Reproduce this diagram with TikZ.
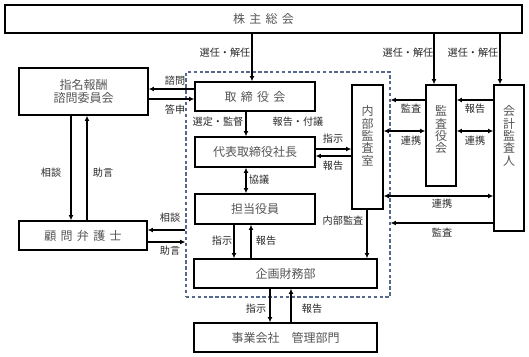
\documentclass[tikz,border=0pt]{standalone}
\usepackage{fontspec}
\setmainfont{Noto Sans CJK JP}
\usepackage{tikz}
\usetikzlibrary{arrows.meta, calc}
\definecolor{boxtext}{RGB}{85,85,85}
\definecolor{labeltext}{RGB}{40,40,40}
\definecolor{framecol}{RGB}{85,105,140}
\newcommand{\kgap}{\hspace{3.2pt}}

\begin{document}
\begin{tikzpicture}[x=0.75pt, y=-0.75pt,
  box/.style={draw, line width=0.9pt, inner sep=0pt, text=boxtext,
    font=\fontsize{9}{10}\selectfont},
  vtext/.style={anchor=north, inner sep=0pt, text=boxtext, align=center,
    font=\fontsize{9}{9.3}\selectfont},
  lbl/.style={inner sep=0pt, text=labeltext, font=\fontsize{7.6}{8}\selectfont},
  arr/.style={line width=0.8pt, -{Latex[length=4pt,width=3.6pt]}},
  darr/.style={line width=0.8pt, {Latex[length=4pt,width=3.6pt]}-{Latex[length=4pt,width=3.6pt]}}]
  \useasboundingbox (0,0) rectangle (529,357);
  % management frame
  \node[draw=framecol, dash pattern=on 2.6pt off 1.8pt, line width=0.8pt,
    minimum width=204*0.75pt, minimum height=225*0.75pt] (frame) at (288,184.5) {};
  % boxes
  \node[box, minimum width=517*0.75pt, minimum height=28*0.75pt] (sh) at (263.5,19)
    {株\kgap 主\kgap 総\kgap 会};
  \node[box, minimum width=129*0.75pt, minimum height=47*0.75pt, align=center] (comm) at (83.5,91.5)
    {指名報酬\\諮問委員会};
  \node[box, minimum width=128*0.75pt, minimum height=29*0.75pt] (lawyer) at (83,235.5)
    {顧\kgap 問\kgap 弁\kgap 護\kgap 士};
  \node[box, minimum width=120*0.75pt, minimum height=29*0.75pt] (board) at (255,96.5)
    {取\kgap 締\kgap 役\kgap 会};
  \node[box, minimum width=120*0.75pt, minimum height=30*0.75pt] (pres) at (255,152)
    {代表取締役社長};
  \node[box, minimum width=120*0.75pt, minimum height=30*0.75pt] (exec) at (255,209)
    {担当役員};
  \node[box, minimum width=183*0.75pt, minimum height=29*0.75pt] (plan) at (285.5,273.5)
    {企画財務部};
  \node[box, minimum width=183*0.75pt, minimum height=29*0.75pt] (biz) at (285.5,337.5)
    {事業会社\quad 管理部門};
  \node[box, minimum width=31*0.75pt, minimum height=124*0.75pt] (ia) at (367.5,147) {};
  \node[box, minimum width=30*0.75pt, minimum height=101*0.75pt] (kan) at (441,135.5) {};
  \node[box, minimum width=30*0.75pt, minimum height=146*0.75pt] (ext) at (509,158) {};
  \node[vtext] (iat) at ($(ia.north)+(0,21)$) {内\\部\\監\\査\\室};
  \node[vtext] (kant) at ($(kan.north)+(0,21)$) {監\\査\\役\\会};
  \node[vtext] (extt) at ($(ext.north)+(0,21)$) {会\\計\\監\\査\\人};
  % connectors
  \draw[arr] (252,0 |- sh.south) -- (252,0 |- board.north);
  \draw[arr] (434,0 |- sh.south) -- (434,0 |- kan.north);
  \draw[arr] (500,0 |- sh.south) -- (500,0 |- ext.north);
  \draw[arr] (board.west |- 0,89) -- (comm.east |- 0,89);
  \draw[arr] (comm.east |- 0,99) -- (board.west |- 0,99);
  \draw[arr] (71,0 |- comm.south) -- (71,0 |- lawyer.north);
  \draw[arr] (87,0 |- lawyer.north) -- (87,0 |- comm.south);
  \draw[arr] (frame.west |- 0,230) -- (lawyer.east |- 0,230);
  \draw[arr] (lawyer.east |- 0,242) -- (frame.west |- 0,242);
  \draw[arr] (246,0 |- board.south) -- (246,0 |- pres.north);
  \draw[darr] (246,0 |- pres.south) -- (246,0 |- exec.north);
  \draw[arr] (234,0 |- exec.south) -- (234,0 |- plan.north);
  \draw[arr] (251,0 |- plan.north) -- (251,0 |- exec.south);
  \draw[arr] (270,0 |- plan.south) -- (270,0 |- biz.north);
  \draw[arr] (291,0 |- biz.north) -- (291,0 |- plan.south);
  \draw[arr] (pres.east |- 0,149) -- (ia.west |- 0,149);
  \draw[arr] (ia.west |- 0,156) -- (pres.east |- 0,156);
  \draw[arr] (367,0 |- ia.south) -- (367,0 |- plan.north);
  \draw[arr] (kan.west |- 0,100) -- (frame.east |- 0,100);
  \draw[darr] (ia.east |- 0,131) -- (kan.west |- 0,131);
  \draw[arr] (ext.west |- 0,100) -- (kan.east |- 0,100);
  \draw[darr] (kan.east |- 0,131) -- (ext.west |- 0,131);
  \draw[darr] (ia.east |- 0,196) -- (ext.west |- 0,196);
  \draw[arr] (ext.west |- 0,223) -- (frame.east |- 0,223);
  % labels
  \node[lbl] (l1) at (225,53) {選任・解任};
  \node[lbl] (l2) at (408,53) {選任・解任};
  \node[lbl] (l3) at (473,53) {選任・解任};
  \node[lbl] (l4) at (175,81) {諮問};
  \node[lbl] (l5) at (175,110) {答申};
  \node[lbl] (l6) at (51,173) {相談};
  \node[lbl] (l7) at (103,173) {助言};
  \node[lbl] (l8) at (170,218) {相談};
  \node[lbl] (l9) at (170,251) {助言};
  \node[lbl] (l10) at (218,122) {選定・監督};
  \node[lbl] (l11) at (298,122) {報告・付議};
  \node[lbl] (l12) at (259,180) {協議};
  \node[lbl] (l13) at (222,241) {指示};
  \node[lbl] (l14) at (266,241) {報告};
  \node[lbl] (l15) at (256,309) {指示};
  \node[lbl] (l16) at (312,309) {報告};
  \node[lbl] (l17) at (333,139) {指示};
  \node[lbl] (l18) at (333,166) {報告};
  \node[lbl] (l19) at (343,221) {内部監査};
  \node[lbl] (l20) at (411,109) {監査};
  \node[lbl] (l21) at (411,141) {連携};
  \node[lbl] (l22) at (475,109) {報告};
  \node[lbl] (l23) at (475,141) {連携};
  \node[lbl] (l24) at (442,204) {連携};
  \node[lbl] (l25) at (442,233) {監査};
\end{tikzpicture}
\end{document}
